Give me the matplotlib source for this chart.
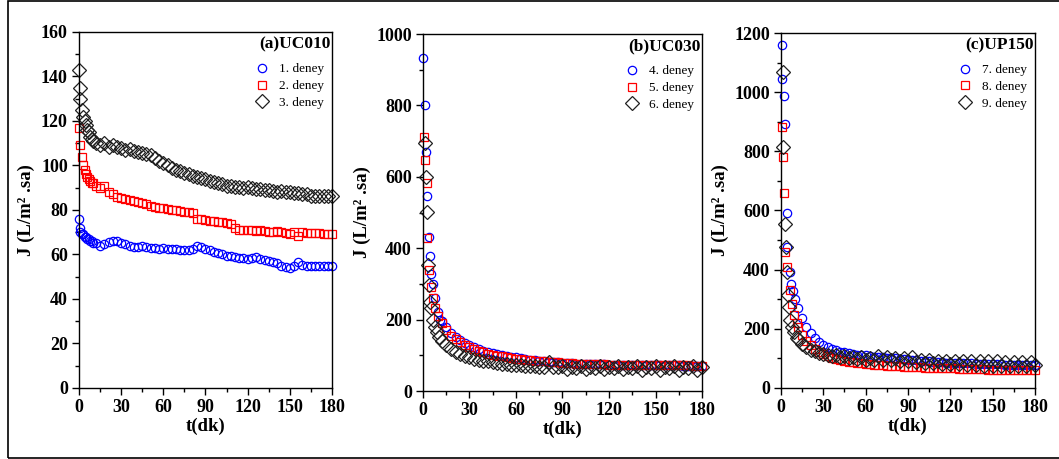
import matplotlib
matplotlib.use("Agg")
import matplotlib.pyplot as plt
from matplotlib.patches import Rectangle

plt.rcParams['font.family'] = ['Liberation Serif', 'DejaVu Serif']

# ========== data ==========
# shared time grid after the first minutes (dk)
t_tail = [12, 15, 18, 21, 24, 27, 30, 33, 36, 39, 42, 45, 48, 51, 54, 57, 60,
          63, 66, 69, 72, 75, 78, 81, 84, 87, 90, 93, 96, 99, 102, 105, 108,
          111, 114, 117, 120, 123, 126, 129, 132, 135, 138, 141, 144, 147, 150,
          153, 156, 159, 162, 165, 168, 171, 174, 177, 180]

# (a) UC010
a1_t0 = [0, 0.5, 1, 2, 3, 4, 5, 6, 7, 8, 9, 10]
a1_j0 = [76, 72, 70, 69, 69, 68, 68, 67, 67, 66, 66, 65]
a1_j = [65, 64, 64.5, 65.5, 66, 66, 65, 64.5, 64, 63.5, 63.5, 64, 63.5, 63, 63,
        62.5, 63, 62.5, 62.5, 62.5, 62, 62, 62, 62.5, 64, 63.5, 62.5, 62, 61,
        60.5, 60, 59.5, 59.5, 59, 58.5, 58.5, 58, 58.5, 59, 58, 57.5, 57, 56.5,
        56, 55, 54.5, 54, 55, 56.5, 55.5, 55, 55, 55, 55, 55, 55, 55]
a2_t0 = [0, 1, 2, 3, 4, 5, 6, 7, 8, 9, 10]
a2_j0 = [117, 109, 104, 100, 98, 96, 95, 94, 93, 92, 92]
a2_j = [91, 90, 91, 88, 87, 86, 85.5, 85, 84.5, 84, 83.5, 83, 82.5, 82, 81.5,
        81, 81, 80.5, 80, 80, 79.5, 79, 79, 78.5, 76, 76, 75.5, 75, 75, 74.5,
        74.5, 74, 73.5, 72, 71, 71, 71, 71, 70.5, 71, 70.5, 70, 70, 70.5, 70,
        69.5, 69, 70, 68.5, 70, 69.5, 69.5, 69.5, 69.5, 69, 69, 69]
a3_t0 = [0, 0.5, 1, 2, 3, 4, 5, 6, 7, 8, 9, 10]
a3_j0 = [143, 135, 130, 125, 122, 120, 118, 116, 115, 113, 112, 111]
a3_j = [110, 109, 110, 108.5, 109, 108.5, 108, 107, 107.5, 106.5, 106, 105.5,
        105, 104.5, 103.5, 102, 101, 100, 99, 98, 97.5, 96.5, 96, 95.5, 95,
        94.5, 94, 93, 92.5, 92, 91.5, 91, 91, 90.5, 90.5, 90, 90.5, 90, 89.5,
        89.5, 89, 89, 88.5, 88, 88.5, 88, 88, 87.5, 87.5, 87, 87, 86.5, 86.5,
        86.5, 86.5, 86.5, 86.5]

# (b) UC030
b1_t0 = [0.3, 1.3, 1.9, 2.7, 3.7, 4.7, 5.5, 6.4, 8, 9.5, 11]
b1_j0 = [933, 801, 670, 546, 432, 378, 328, 300, 261, 222, 200]
b1_j = [195, 178, 163, 152, 142, 135, 128, 122, 117, 113, 110, 107, 104, 101,
        98, 96, 94, 92, 90, 88, 86, 85, 83, 82, 81, 80, 79, 78, 77.5, 77, 76.5,
        76, 75.5, 75, 75, 74.5, 74, 74, 73.5, 73.5, 73, 73, 73, 72.5, 72.5, 72,
        72, 72, 72, 71.5, 71.5, 71.5, 71, 71, 71, 71, 71]
b2_t0 = [0.5, 1.5, 2.3, 2.8, 3.7, 5, 6.5, 8, 10]
b2_j0 = [712, 647, 582, 428, 339, 292, 260, 232, 210]
b2_j = [190, 170, 155, 145, 136, 128, 122, 117, 112, 108, 105, 102, 99, 97, 95,
        93, 91, 89, 87, 86, 85, 84, 83, 82, 81, 80, 79, 78, 77.5, 77, 76.5, 76,
        75.5, 75, 75, 74.5, 74, 74, 74, 73.5, 73.5, 73, 73, 73, 72.5, 72.5, 72,
        72, 72, 72, 72, 71.5, 71.5, 71.5, 71, 71, 71]
b3_t0 = [1.5, 1.9, 2.4, 3.4, 3.7, 4.3, 5.4, 6.4, 7.5, 9, 10.5]
b3_j0 = [695, 600, 502, 353, 297, 250, 232, 200, 180, 165, 150]
b3_j = [140, 128, 118, 110, 104, 99, 95, 91, 88, 85, 83, 81, 79, 77, 76, 74,
        73, 72, 71, 70, 69, 68, 68, 82, 67, 66, 70, 62, 68, 64, 70, 62, 68, 64,
        70, 62, 68, 64, 70, 62, 68, 64, 70, 60, 68, 64, 70, 60, 68, 64, 70, 60,
        68, 64, 70, 60, 66]

# (c) UP150
c1_t0 = [0.5, 0.9, 2, 2.8, 4, 4.4, 6.4, 6.9, 8.8, 10]
c1_j0 = [1159, 1046, 986, 894, 591, 478, 393, 351, 329, 300]
c1_j = [270, 235, 205, 185, 168, 155, 145, 138, 132, 127, 123, 120, 117, 115,
        113, 111, 110, 108, 106, 105, 104, 102, 101, 100, 99, 97, 96, 94, 93,
        92, 91, 90, 89, 88, 87, 86, 85, 85, 84, 84, 83, 83, 82, 82, 81, 81, 80,
        80, 80, 79, 79, 79, 78, 78, 78, 78, 78]
c2_t0 = [1, 1.5, 2, 2.5, 4, 6.4, 7.6, 9.5, 11]
c2_j0 = [883, 781, 660, 459, 410, 331, 284, 246, 220]
c2_j = [205, 180, 160, 145, 132, 122, 114, 107, 102, 98, 95, 92, 89, 87, 85, 83,
        82, 80, 79, 78, 77, 76, 75, 74, 73, 72, 72, 71, 70, 70, 69, 69, 68, 68,
        67, 67, 66, 66, 65, 65, 64, 64, 63, 63, 63, 62, 62, 62, 61, 61, 61, 60,
        60, 60, 60, 60, 60]
c3_t0 = [1.2, 1.6, 2.8, 3.5, 4.5, 5.2, 6, 6.4, 7.6, 9, 11]
c3_j0 = [1069, 815, 554, 477, 393, 314, 273, 230, 205, 190, 170]
c3_j = [165, 150, 140, 130, 124, 118, 114, 110, 108, 112, 104, 108, 100, 106,
        98, 104, 96, 102, 95, 108, 95, 104, 94, 102, 92, 100, 90, 104, 88, 96,
        86, 94, 84, 92, 82, 92, 80, 90, 80, 90, 78, 92, 78, 90, 76, 90, 76, 90,
        76, 88, 76, 88, 76, 88, 76, 88, 78]

panels = [
    ('(a)UC010', 160, 20, [(a1_t0, a1_j0, a1_j), (a2_t0, a2_j0, a2_j), (a3_t0, a3_j0, a3_j)],
     ['1. deney', '2. deney', '3. deney']),
    ('(b)UC030', 1000, 200, [(b1_t0, b1_j0, b1_j), (b2_t0, b2_j0, b2_j), (b3_t0, b3_j0, b3_j)],
     ['4. deney', '5. deney', '6. deney']),
    ('(c)UP150', 1200, 200, [(c1_t0, c1_j0, c1_j), (c2_t0, c2_j0, c2_j), (c3_t0, c3_j0, c3_j)],
     ['7. deney', '8. deney', '9. deney']),
]

# ========== plot ==========
fig = plt.figure(figsize=(10.59, 4.59), dpi=100)
fig.patches.append(Rectangle((8 / 1059, 1 / 459), 1.1, 457 / 459, transform=fig.transFigure,
                             fill=False, edgecolor='black', linewidth=1.2))

boxes = [[0.0746, 0.1547, 0.2389, 0.7756],
         [0.3994, 0.1481, 0.2635, 0.7778],
         [0.7375, 0.1547, 0.2398, 0.7734]]
styles = [dict(marker='o', color='blue', ms=6),
          dict(marker='s', color='red', ms=6),
          dict(marker='D', color='#202020', ms=6.8)]

for box, (title, ymax, ystep, series, labels) in zip(boxes, panels):
    ax = fig.add_axes(box)
    for (t0, j0, j), lab, st in zip(series, labels, styles):
        ax.plot(t0 + t_tail, j0 + j, linestyle='none', marker=st['marker'],
                markersize=st['ms'], markerfacecolor='none', markeredgecolor=st['color'],
                markeredgewidth=0.9, label=lab, clip_on=False)
    ax.set_xlim(0, 180)
    ax.set_ylim(0, ymax)
    ax.set_xticks(range(0, 181, 30))
    ax.set_xticks(range(15, 180, 30), minor=True)
    ax.set_yticks(range(0, ymax + 1, ystep))
    ax.set_yticks(range(ystep // 2, ymax, ystep), minor=True)
    ax.tick_params(which='major', direction='out', length=5, width=1, labelsize=13, pad=3)
    ax.tick_params(which='minor', direction='out', length=3, width=1)
    for lbl in ax.get_xticklabels() + ax.get_yticklabels():
        lbl.set_fontweight('bold')
    for sp in ax.spines.values():
        sp.set_linewidth(1)
    ax.set_xlabel('t(dk)', fontsize=13.5, fontweight='bold', labelpad=1)
    ax.set_ylabel('J (L/m² .sa)', fontsize=13.5, fontweight='bold', labelpad=4)
    ax.text(0.995, 0.965, title, transform=ax.transAxes, ha='right', va='center',
            fontsize=12.5, fontweight='bold')
    ax.legend(loc='upper right', bbox_to_anchor=(1.0, 0.935), frameon=False,
              fontsize=9.5, handletextpad=0.7, labelspacing=0.35, borderaxespad=0.2,
              handlelength=1.2)

plt.savefig('out.png', dpi=100)
plt.close()
